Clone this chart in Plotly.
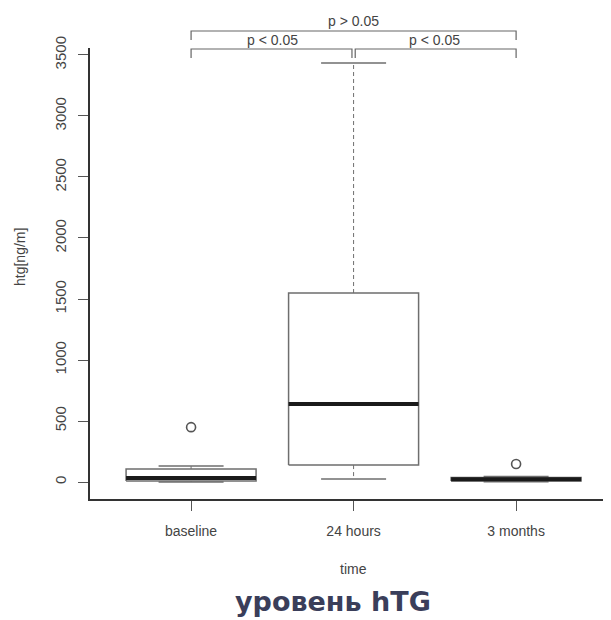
import plotly.graph_objects as go

# ---- data ----
categories = ["baseline", "24 hours", "3 months"]
q1 = [8, 139, 8]
medians = [33, 639, 22]
q3 = [107, 1549, 38]
lower_whisker = [0, 25, 2]
upper_whisker = [131, 3434, 45]
outlier_cat = [1, 3]
outlier_val = [450, 148]
y_ticks = [0, 500, 1000, 1500, 2000, 2500, 3000, 3500]
comparisons = [(1, 2, "p < 0.05", 0), (2, 3, "p < 0.05", 0), (1, 3, "p > 0.05", 1)]

# page body has an 8px default margin; the figure is sized to fill the rest of the window
OFF = 8
WIN_W, WIN_H = 611, 620
W, H = WIN_W - OFF, WIN_H - OFF
PLOT_LEFT, PLOT_TOP, PLOT_BOTTOM = 90, 48, 499  # in window pixels
ML = PLOT_LEFT - OFF
MT = PLOT_TOP - OFF
MB = WIN_H - PLOT_BOTTOM
plot_h = PLOT_BOTTOM - PLOT_TOP
plot_w = WIN_W - PLOT_LEFT

def py(pix):
    return (PLOT_BOTTOM - pix) / plot_h

def px(pix):
    return (pix - PLOT_LEFT) / plot_w

BOX_HALF = 0.4
CAP_HALF = 0.2
EDGE = "#6e6e6e"
TXT = "#444444"
FONT = "Liberation Sans, Arial"

fig = go.Figure()
for i, cat in enumerate(categories):
    x = i + 1
    fig.add_trace(go.Scatter(x=[x, x, None, x, x],
                             y=[q3[i], upper_whisker[i], None, q1[i], lower_whisker[i]],
                             mode="lines", line=dict(color=EDGE, width=1, dash="4px,3px"),
                             showlegend=False, hoverinfo="skip"))
    fig.add_trace(go.Scatter(x=[x - CAP_HALF, x + CAP_HALF, None, x - CAP_HALF, x + CAP_HALF],
                             y=[upper_whisker[i], upper_whisker[i], None, lower_whisker[i], lower_whisker[i]],
                             mode="lines", line=dict(color=EDGE, width=1.5),
                             showlegend=False, hoverinfo="skip"))
    fig.add_trace(go.Scatter(x=[x - BOX_HALF, x + BOX_HALF, x + BOX_HALF, x - BOX_HALF, x - BOX_HALF],
                             y=[q1[i], q1[i], q3[i], q3[i], q1[i]],
                             mode="lines", fill="toself", fillcolor="white",
                             line=dict(color=EDGE, width=1.5),
                             showlegend=False, hoverinfo="skip"))
    fig.add_trace(go.Scatter(x=[x - BOX_HALF, x + BOX_HALF], y=[medians[i], medians[i]],
                             mode="lines", line=dict(color="#1a1a1a", width=4),
                             showlegend=False, hoverinfo="skip"))

fig.add_trace(go.Scatter(x=outlier_cat, y=outlier_val, mode="markers",
                         marker=dict(symbol="circle-open", size=9, color="#555555",
                                     line=dict(width=1.6, color="#555555")),
                         showlegend=False, hoverinfo="skip"))

level_line = [py(49), py(31)]
level_drop = [py(58), py(40)]
level_text = [py(40), py(21)]
shapes = []
annotations = []
for a, b, label, lvl in comparisons:
    xa = a + (0.01 if (lvl == 0 and a == 2) else 0)
    xb = b - (0.01 if (lvl == 0 and b == 2) else 0)
    shapes.append(dict(type="path", xref="x", yref="paper",
                       path=f"M {xa},{level_drop[lvl]} L {xa},{level_line[lvl]} L {xb},{level_line[lvl]} L {xb},{level_drop[lvl]}",
                       line=dict(color="#666666", width=1.2)))
    annotations.append(dict(x=(a + b) / 2, y=level_text[lvl], xref="x", yref="paper",
                            text=label, showarrow=False, yanchor="middle",
                            font=dict(family=FONT, size=14, color=TXT)))

annotations.append(dict(x=2, y=py(569), xref="x", yref="paper", text="time",
                        showarrow=False, yanchor="middle",
                        font=dict(family=FONT, size=14, color=TXT)))
annotations.append(dict(x=px(20), y=py(257), xref="paper", yref="paper",
                        text="htg[ng/m]", textangle=-90, showarrow=False,
                        xanchor="center", yanchor="middle",
                        font=dict(family=FONT, size=14, color=TXT)))
annotations.append(dict(x=px(333), y=py(601), xref="paper", yref="paper",
                        text="<b>уровень hTG</b>", showarrow=False,
                        xanchor="center", yanchor="middle",
                        font=dict(family="DejaVu Sans", size=27, color="#3a3e5a")))

fig.update_layout(
    width=W, height=H,
    margin=dict(l=ML, r=0, t=MT, b=MB, pad=0),
    paper_bgcolor="white", plot_bgcolor="white",
    shapes=shapes, annotations=annotations,
    xaxis=dict(range=[0.378, 3.584], tickmode="array", tickvals=[1, 2, 3], ticktext=categories,
               ticks="outside", ticklen=10, tickcolor="#555555", tickwidth=1,
               showline=True, linecolor="#333333", linewidth=1.5,
               showgrid=False, zeroline=False, ticklabelstandoff=8,
               tickfont=dict(family=FONT, size=14, color=TXT)),
    yaxis=dict(range=[-139, 3557], tickmode="array", tickvals=y_ticks,
               ticktext=[str(v) for v in y_ticks], tickangle=-90,
               ticks="outside", ticklen=10, tickcolor="#555555", tickwidth=1.2,
               showline=True, linecolor="#333333", linewidth=1.5,
               showgrid=False, zeroline=False, ticklabelstandoff=6,
               tickfont=dict(family=FONT, size=15, color=TXT)),
)

fig.write_html("out.html")
